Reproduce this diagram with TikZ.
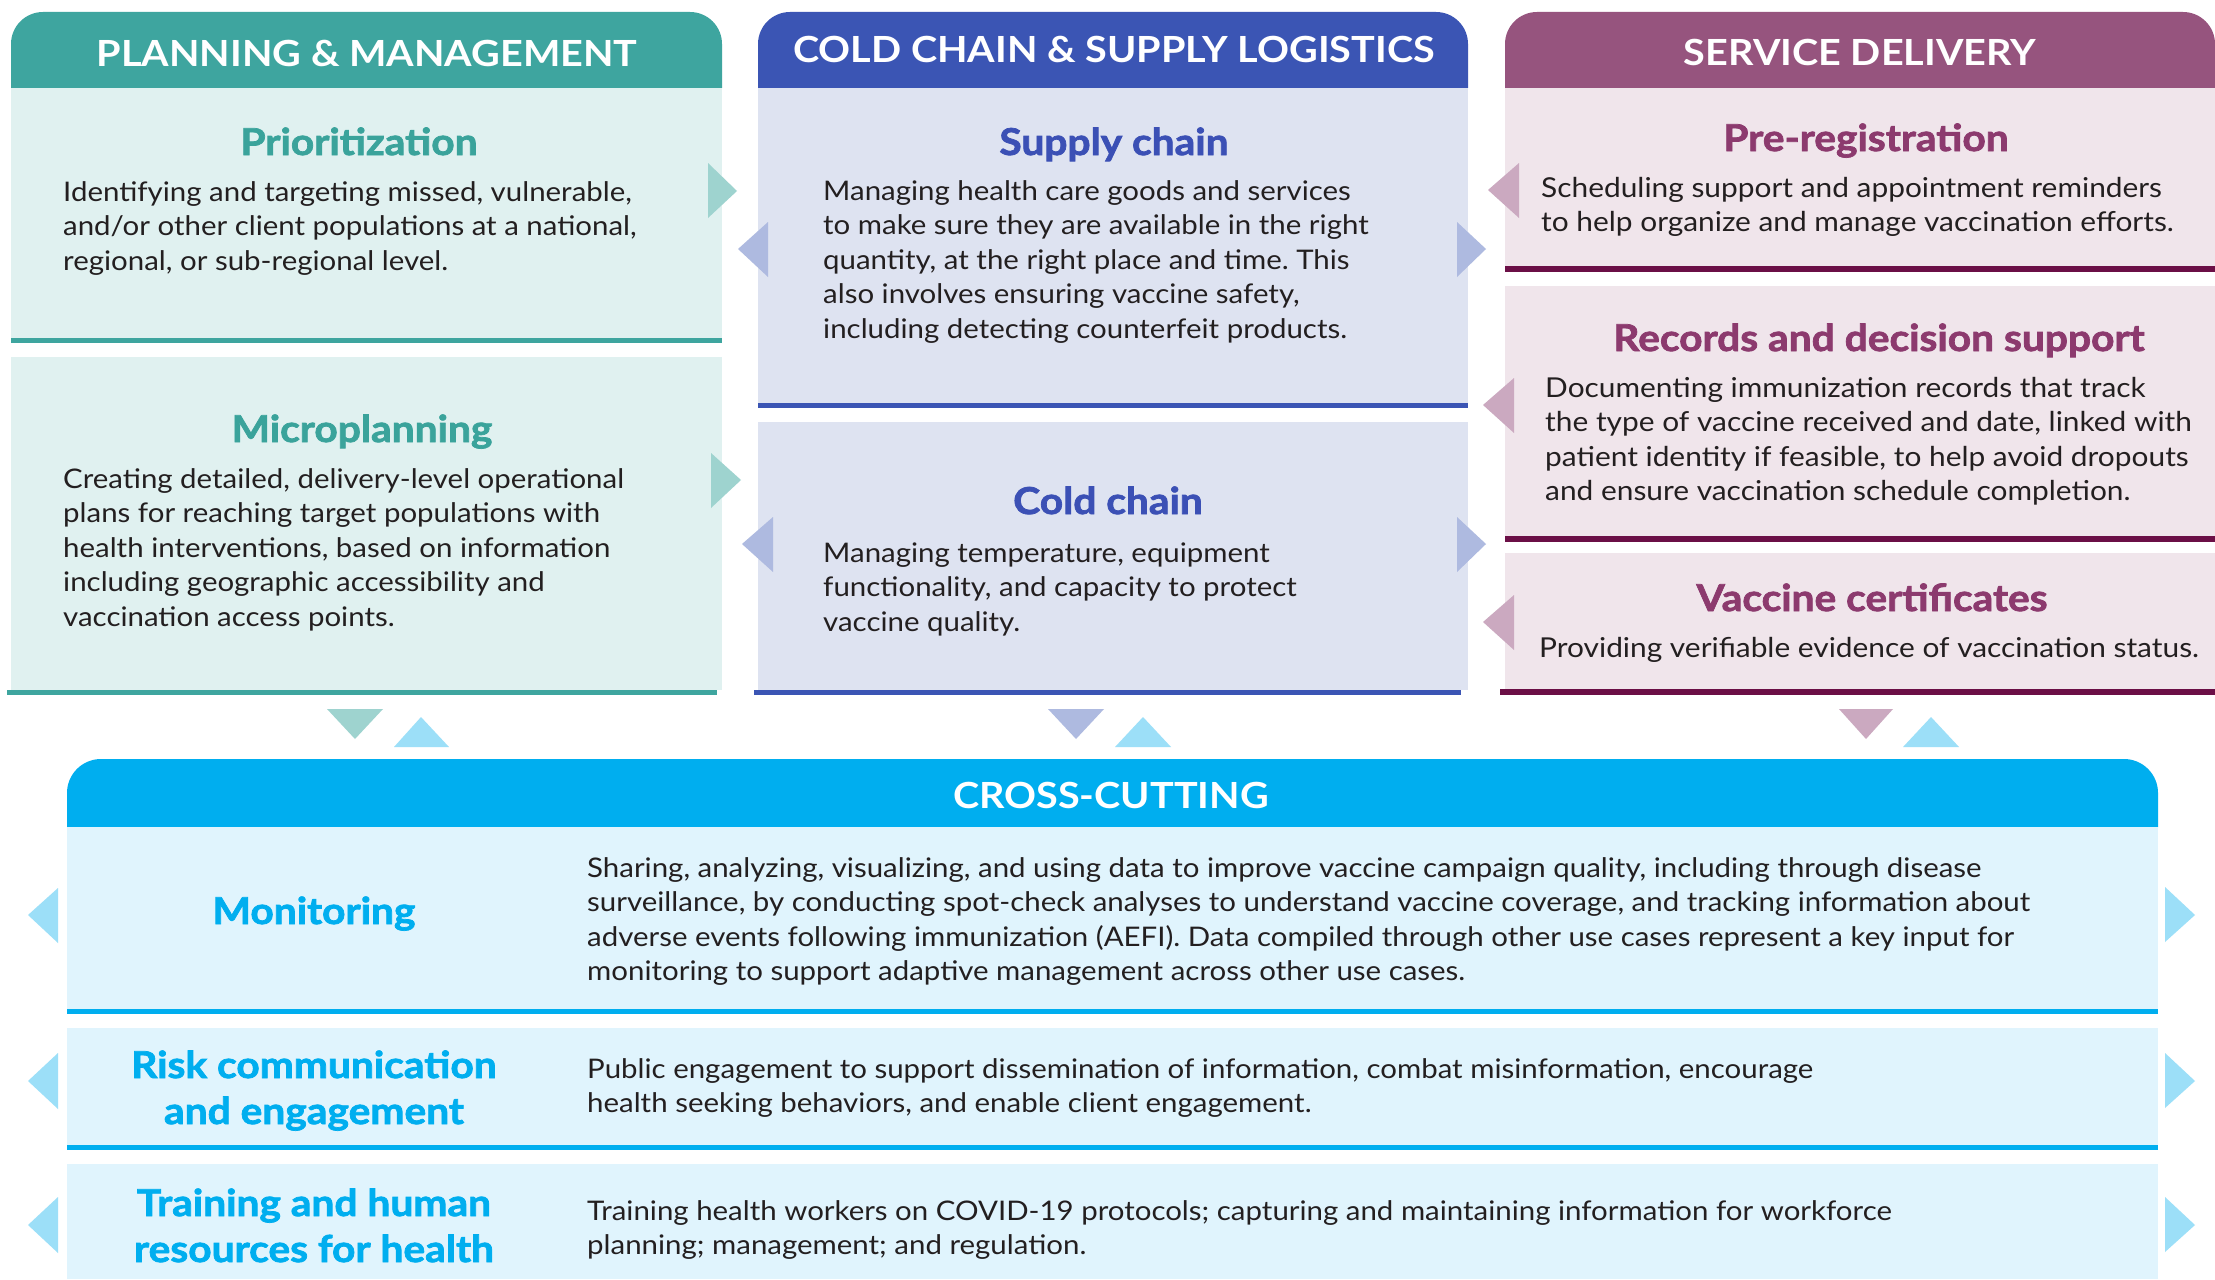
\documentclass[tikz,border=0pt]{standalone}
\usepackage{fontspec}
\setmainfont{Lato}
\newfontfamily\bodyfont{Lato}[FakeStretch=1.09]
\newfontfamily\ttlfont{Lato Bold}[FakeStretch=1.1,FakeBold=2]
\newfontfamily\hdrfont{Lato Bold}[FakeStretch=1.1]
\definecolor{tealH}{HTML}{3EA59F}
\definecolor{tealT}{HTML}{3AA39B}
\definecolor{tealF}{HTML}{E0F1F0}
\definecolor{tealA}{HTML}{9ED3CF}
\definecolor{blueH}{HTML}{3B55B4}
\definecolor{blueT}{HTML}{3B50B5}
\definecolor{blueF}{HTML}{DEE3F1}
\definecolor{blueA}{HTML}{AEBAE0}
\definecolor{purH}{HTML}{96547E}
\definecolor{purT}{HTML}{8C3A6E}
\definecolor{purF}{HTML}{F0E5EB}
\definecolor{purA}{HTML}{CBA9C0}
\definecolor{purL}{HTML}{6B0F46}
\definecolor{cyH}{HTML}{00AEEF}
\definecolor{cyF}{HTML}{E0F4FD}
\definecolor{cyA}{HTML}{9CDFF8}
\definecolor{ink}{HTML}{231F20}
\newcommand\mlines[1]{\begin{tabular}[t]{@{}l@{}}#1\end{tabular}}
\newcommand\clines[1]{\begin{tabular}[t]{@{}c@{}}#1\end{tabular}}
\frenchspacing
\begin{document}
\begin{tikzpicture}[x=1pt,y=-1pt,
  hdr/.style={font=\hdrfont\fontsize{36}{40}\selectfont, text=white, inner sep=0pt, anchor=base},
  ttl/.style={font=\ttlfont\fontsize{37}{46}\selectfont, inner sep=0pt, anchor=base},
  body/.style={font=\bodyfont\fontsize{27}{34.6}\selectfont, text=ink, inner sep=0pt, anchor=base west},
  bodyR/.style={font=\bodyfont\fontsize{27.4}{34.6}\selectfont, text=ink, inner sep=0pt, anchor=base west}]
\useasboundingbox (0,0) rectangle (2215,1279);
\fill[white] (0,0) rectangle (2215,1279);

% ---------- Planning & management ----------
\fill[tealH] (11,88) [rounded corners=32pt] -- (11,12) -- (722,12) [sharp corners] -- (722,88) -- cycle;
\fill[tealF] (11,88) rectangle (722,338);
\fill[tealH] (11,338) rectangle (722,343);
\fill[tealF] (11,357) rectangle (722,690);
\fill[tealH] (7,690) rectangle (717,695);
\node[hdr] (hPM) at (367,67) {PLANNING \& MANAGEMENT};
\node[ttl,text=tealT] (tPrio) at (359,155) {Prioritization};
\node[body] (bPrio) at (63,201) {\mlines{Identifying and targeting missed, vulnerable,\\and/or other client populations at a national,\\regional, or sub-regional level.}};
\node[ttl,text=tealT] (tMicro) at (362,442) {Microplanning};
\node[body] (bMicro) at (63,488) {\mlines{Creating detailed, delivery-level operational\\plans for reaching target populations with\\health interventions, based on information\\including geographic accessibility and\\vaccination access points.}};
\fill[tealA] (708,163) -- (737,191) -- (708,218) -- cycle;
\fill[tealA] (711,453) -- (741,480) -- (711,508) -- cycle;

% ---------- Cold chain & supply logistics ----------
\fill[blueH] (758,88) [rounded corners=32pt] -- (758,12) -- (1468,12) [sharp corners] -- (1468,88) -- cycle;
\fill[blueF] (758,88) rectangle (1468,403);
\fill[blueH] (758,403) rectangle (1468,408);
\fill[blueF] (758,422) rectangle (1468,690);
\fill[blueH] (754,690) rectangle (1461,695);
\node[hdr] (hCC) at (1114,63) {COLD CHAIN \& SUPPLY LOGISTICS};
\node[ttl,text=blueT] (tSup) at (1114,155) {Supply chain};
\node[body] (bSup) at (823,200) {\mlines{Managing health care goods and services\\to make sure they are available in the right\\quantity, at the right place and time. This\\also involves ensuring vaccine safety,\\including detecting counterfeit products.}};
\node[ttl,text=blueT] (tCold) at (1108,514) {Cold chain};
\node[body] (bCold) at (823,562) {\mlines{Managing temperature, equipment\\functionality, and capacity to protect\\vaccine quality.}};
\fill[blueA] (768,222) -- (738,249) -- (768,277) -- cycle;
\fill[blueA] (773,517) -- (742,544) -- (773,572) -- cycle;
\fill[blueA] (1457,222) -- (1486,249) -- (1457,277) -- cycle;
\fill[blueA] (1457,517) -- (1486,544) -- (1457,572) -- cycle;

% ---------- Service delivery ----------
\fill[purH] (1505,88) [rounded corners=32pt] -- (1505,12) -- (2215,12) [sharp corners] -- (2215,88) -- cycle;
\fill[purF] (1505,88) rectangle (2215,266);
\fill[purL] (1505,266) rectangle (2215,272);
\fill[purF] (1505,286) rectangle (2215,536);
\fill[purL] (1505,536) rectangle (2215,542);
\fill[purF] (1505,553) rectangle (2215,689);
\fill[purL] (1500,689) rectangle (2215,695);
\node[hdr] (hSD) at (1860,66) {SERVICE DELIVERY};
\node[ttl,text=purT] (tPre) at (1866,151) {Pre-registration};
\node[bodyR] (bPre) at (1541,197) {\mlines{Scheduling support and appointment reminders\\to help organize and manage vaccination efforts.}};
\node[ttl,text=purT] (tRec) at (1879,351) {Records and decision support};
\node[bodyR] (bRec) at (1545,397) {\mlines{Documenting immunization records that track\\the type of vaccine received and date, linked with\\patient identity if feasible, to help avoid dropouts\\and ensure vaccination schedule completion.}};
\node[ttl,text=purT] (tVac) at (1872,611) {Vaccine certificates};
\node[bodyR] (bVac) at (1539,657.5) {Providing verifiable evidence of vaccination status.};
\fill[purA] (1519,163) -- (1488,190) -- (1519,218) -- cycle;
\fill[purA] (1514,378) -- (1483,405) -- (1514,433) -- cycle;
\fill[purA] (1514,595) -- (1483,622) -- (1514,650) -- cycle;

% ---------- link triangles ----------
\fill[tealA] (327,709) -- (383,709) -- (355,739) -- cycle;
\fill[cyA] (394,747) -- (449,747) -- (421,717) -- cycle;
\fill[blueA] (1048,709) -- (1104,709) -- (1076,739) -- cycle;
\fill[cyA] (1115,747) -- (1171,747) -- (1143,717) -- cycle;
\fill[purA] (1839,709) -- (1893,709) -- (1866,739) -- cycle;
\fill[cyA] (1903,747) -- (1959,747) -- (1931,717) -- cycle;

% ---------- Cross-cutting ----------
\fill[cyH] (67,827) [rounded corners=34pt] -- (67,759) -- (2158,759) [sharp corners] -- (2158,827) -- cycle;
\fill[cyF] (67,827) rectangle (2158,1009);
\fill[cyH] (67,1009) rectangle (2158,1014);
\fill[cyF] (67,1028) rectangle (2158,1145);
\fill[cyH] (67,1145) rectangle (2158,1150);
\fill[cyF] (67,1164) rectangle (2158,1279);
\node[hdr] (hCX) at (1111,808) {CROSS-CUTTING};
\node[ttl,text=cyH] (tMon) at (314,924) {Monitoring};
\node[ttl,text=cyH] (tRisk) at (314,1078) {\clines{Risk communication\\and engagement}};
\node[ttl,text=cyH] (tTrain) at (314,1216) {\clines{Training and human\\resources for health}};
\node[body] (bMon) at (587,877) {\mlines{Sharing, analyzing, visualizing, and using data to improve vaccine campaign quality, including through disease\\surveillance, by conducting spot-check analyses to understand vaccine coverage, and tracking information about\\adverse events following immunization (AEFI). Data compiled through other use cases represent a key input for\\monitoring to support adaptive management across other use cases.}};
\node[body] (bRisk) at (587,1078) {\mlines{Public engagement to support dissemination of information, combat misinformation, encourage\\health seeking behaviors, and enable client engagement.}};
\node[body] (bTrain) at (587,1220) {\mlines{Training health workers on COVID-19 protocols; capturing and maintaining information for workforce\\planning; management; and regulation.}};
\fill[cyA] (58,888) -- (28,915) -- (58,943) -- cycle;
\fill[cyA] (58,1053) -- (28,1081) -- (58,1109) -- cycle;
\fill[cyA] (58,1197) -- (28,1225) -- (58,1253) -- cycle;
\fill[cyA] (2165,887) -- (2195,915) -- (2165,942) -- cycle;
\fill[cyA] (2165,1053) -- (2195,1081) -- (2165,1108) -- cycle;
\fill[cyA] (2165,1197) -- (2195,1225) -- (2165,1252) -- cycle;
\end{tikzpicture}
\end{document}
